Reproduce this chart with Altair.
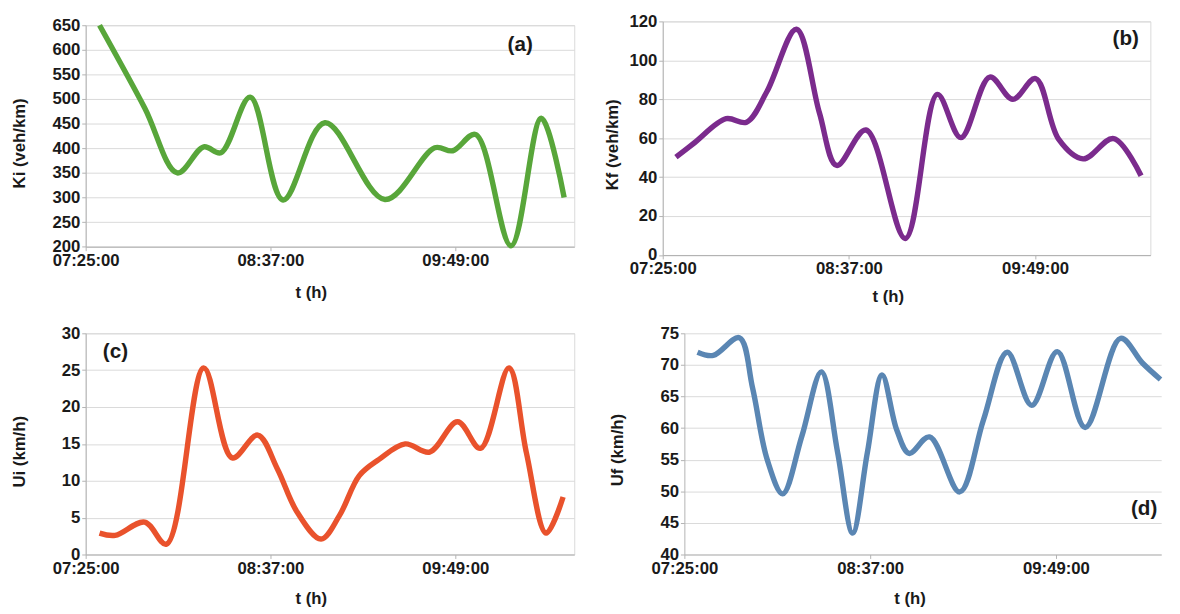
import altair as alt
import pandas as pd

DAY = "2020-01-01 "

# (a) Ki (veh/km)
ki_time = ["07:30:24", "07:48:00", "08:00:42", "08:11:00", "08:17:42",
           "08:29:06", "08:41:54", "08:58:12", "09:21:36",
           "09:41:00", "09:48:00", "09:56:54", "10:10:42", "10:22:30", "10:31:24"]
ki_val = [650, 482, 350, 403, 391, 504, 295, 452, 296, 401,
          395, 428, 202, 461, 300]

# (b) Kf (veh/km)
kf_time = ["07:30:06", "07:37:24", "07:49:30", "07:57:24", "08:05:18", "08:16:42", "08:25:36",
           "08:32:18", "08:43:36", "08:58:48", "09:11:12", "09:20:18",
           "09:31:30", "09:40:24", "09:49:12", "09:58:06", "10:07:36", "10:19:24", "10:30:00"]
kf_val = [50.3, 57.8, 70, 68.2, 84, 116, 73, 46, 64.2, 8.5, 82.5, 60.3, 91.4, 80,
          90.6, 59.5, 49.4, 59.8, 40.7]

# (c) Ui (km/h)
ui_time = ["07:30:24", "07:36:30", "07:48:00", "07:56:30", "08:11:00",
           "08:22:06", "08:32:00", "08:39:42", "08:47:18", "08:56:42", "09:03:54", "09:11:36",
           "09:19:18", "09:29:30", "09:39:00", "09:49:54", "09:58:48", "10:09:54", "10:16:42",
           "10:24:24", "10:31:00"]
ui_val = [2.9, 2.6, 4.4, 1.4, 25.3, 13.1, 16.2, 11.6, 5.8, 2.1, 5.3, 10.7, 12.9,
          15.0, 13.9, 18.0, 14.4, 25.3, 13.8, 2.9, 7.8]

# (d) Uf (km/h)
uf_time = ["07:30:06", "07:36:12", "07:46:18", "07:51:24", "07:57:06", "08:03:06", "08:10:30",
           "08:18:06", "08:24:24", "08:30:12", "08:35:54", "08:41:36", "08:47:18", "08:52:06",
           "09:00:00", "09:11:42", "09:20:54", "09:30:06", "09:39:36", "09:49:30", "10:00:18",
           "10:14:00", "10:22:30", "10:29:30"]
uf_val = [72.0, 71.5, 74.3, 66.4, 55.0, 49.6, 58.7, 68.9, 56.1, 43.4, 56.1, 68.4, 59.7, 56.0,
          58.6, 49.9, 61.3, 72.0, 63.6, 72.1, 60.1, 74.2, 70.3, 67.7]

tick_labels = ["07:25:00", "08:37:00", "09:49:00"]
panel_labels = ["(a)", "(b)", "(c)", "(d)"]

FONT = "Liberation Sans"
TXT = "#1a1a1a"


def dt(hms):
    h, m, s = [int(p) for p in hms.split(":")]
    return alt.DateTime(year=2020, month=1, date=1, hours=h, minutes=m, seconds=s)


def frame(times, vals):
    return pd.DataFrame({"t": pd.to_datetime([DAY + s for s in times]), "v": vals})


def panel(times, vals, color, ytitle, ydom, ystep, width, height, x_end,
          ytx, yty, xty, label, lx, ly, stroke="#d9d9d9"):
    df = frame(times, vals)
    x = alt.X("t:T",
              scale=alt.Scale(domain=[dt("07:25:00"), dt(x_end)]),
              axis=alt.Axis(values=[dt(s) for s in tick_labels], format="%H:%M:%S",
                            title="t (h)", grid=False, labelFlush=False,
                            titleX=229, titleY=xty, tickSize=4, labelPadding=2))
    y = alt.Y("v:Q",
              scale=alt.Scale(domain=ydom, nice=False, zero=False),
              axis=alt.Axis(values=list(range(ydom[0], ydom[1] + 1, ystep)),
                            title=ytitle, titleX=ytx, titleY=yty,
                            titleBaseline="middle", tickSize=4, labelPadding=2))
    line = alt.Chart(df).mark_line(color=color, strokeWidth=5.5,
                                   interpolate="catmull-rom").encode(x=x, y=y)
    lab = alt.Chart(pd.DataFrame({"label": [label]})).mark_text(
        font=FONT, fontSize=21, fontWeight="bold", color=TXT, align="center", baseline="middle"
    ).encode(text="label:N", x=alt.value(lx), y=alt.value(ly))
    return alt.layer(line, lab).properties(width=width, height=height,
                                           view=alt.ViewBackground(stroke=stroke))


pa = panel(ki_time, ki_val, "#58a63a", "Ki (veh/km)", [200, 650], 50, 497, 225.3, "10:35:21",
           -67, 119.7, 38.5, panel_labels[0], 442, 20.6)
pb = panel(kf_time, kf_val, "#7b2b8d", "Kf (veh/km)", [0, 120], 20, 496, 237.6, "10:33:36",
           -51.5, 125, 34, panel_labels[1], 471, 18.3)
pc = panel(ui_time, ui_val, "#e9522c", "Ui (km/h)", [0, 30], 5, 497, 225, "10:35:21",
           -67, 120, 36.5, panel_labels[2], 30.3, 19.3)
pd_ = panel(uf_time, uf_val, "#5a86b3", "Uf (km/h)", [40, 75], 5, 485, 225, "10:29:46",
            -68, 118.3, 36.5, panel_labels[3], 467.7, 179.3, stroke="transparent")

row1 = alt.hconcat(pa, pb, spacing=27, center=True)
row2 = alt.hconcat(pc, pd_, spacing=33)

chart = alt.vconcat(row1, row2, spacing=18.7).properties(
    padding={"left": 2, "top": -2, "right": 0, "bottom": 0}
).configure_axis(
    labelFont=FONT, labelFontSize=17, labelFontWeight="bold", labelColor=TXT,
    titleFont=FONT, titleFontSize=17, titleFontWeight="bold", titleColor=TXT,
    domainColor="#b3b3b3", tickColor="#b3b3b3", gridColor="#d9d9d9", gridWidth=1
).configure_view(stroke="#d9d9d9")

chart.save("out.html", embed_options={"renderer": "svg", "actions": False})
